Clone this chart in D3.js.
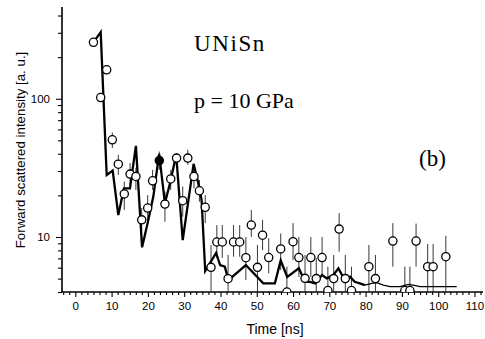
<!DOCTYPE html>
<html><head><meta charset="utf-8">
<script src="https://cdn.jsdelivr.net/npm/d3@7/dist/d3.min.js"></script>
<style>
html,body{margin:0;padding:0;background:#fff;}
svg{display:block;}
</style></head>
<body>
<svg id="chart" width="485" height="339"></svg>
<script>
// Observed data (time in ns, intensity a.u.)
const obsTime = [5.0,7.0,8.65,10.2,11.85,13.5,15.1,16.7,18.3,19.95,21.3,23.15,24.7,26.3,27.9,29.6,31.0,32.7,34.2,35.8,37.4,39.0,40.5,42.1,43.6,45.3,47.0,48.5,50.2,51.6,53.3,56.6,58.3,60.0,61.6,63.3,64.9,66.4,68.0,69.6,71.2,72.7,74.4,76.1,80.9,82.7,87.5,90.8,92.2,93.9,97.1,98.6,102.1];
const obsValue = [256,102,162,50.5,33.6,20.5,28.5,27.4,13.3,16.2,25.5,35.7,17.3,26.3,37.2,18.3,37.2,27.4,21.6,16.4,6.03,9.2,9.2,4.99,9.2,9.2,7.08,12.2,6.03,10.3,7.1,8.2,4.0,9.25,7.1,5.02,7.1,5.0,7.1,4.1,5.0,11.4,5.0,4.1,6.1,5.0,9.35,4.1,4.1,9.35,6.1,6.1,7.2];
const obsHigh = [null,null,null,57,39.3,25.2,34.3,31.6,16.2,20.1,30.6,41.5,21.3,30.6,40.4,23.2,42.7,32.3,25.9,20.1,8.75,12.2,12.2,7.41,12.2,12.2,10.0,15.7,8.75,13.3,9.8,10.6,6.1,12.6,10.0,7.41,10.0,7.05,10.0,6.1,7.41,14.9,7.41,6.1,8.75,7.41,12.6,6.1,6.1,12.5,8.9,8.9,10.2];
const obsLow  = [null,null,null,44,28.1,15.7,23.8,21.9,11.2,12.8,21.9,30.6,12.9,21.9,33.3,14.0,33.3,22.5,18.0,12.6,4.0,7.05,7.05,4.0,7.2,7.2,4.88,10.0,4.0,8.05,5.46,5.77,4.0,6.81,5.15,4.0,5.15,4.0,5.3,4.0,4.0,7.82,4.0,4.0,4.0,4.0,6.1,4.0,4.0,6.1,4.0,4.0,4.0];
const filledIndex = [11];

// Simulated curve
const simTime = [5.0,7.0,8.65,10.3,11.85,13.4,15.07,16.7,18.4,19.95,21.5,23.1,24.7,26.2,27.8,29.6,32.6,34.2,34.8,35.8,38.8,39.9,41.2,42.2,47.0,51.8,55.0,56.6,58.4,61.6,63.3,64.7,66.1,68.0,69.3,71.1,72.5,74.5,75.7,77.0,78.4,79.8,81.7,83.1,84.9,86.7,89.5,91.8,93.1,95.0,98.6,105.1];
const simValue = [256,303,28.1,30.2,14.4,22.5,22.5,45.6,8.42,12.7,19.6,39.9,17.6,25.1,39.3,9.5,33.8,22.6,18.5,5.67,7.66,6.27,6.1,4.88,6.27,4.62,4.62,6.76,5.15,5.93,4.74,4.74,4.62,5.31,5.02,5.31,5.93,4.74,5.15,4.74,4.62,4.49,4.62,4.67,4.49,4.37,4.37,4.54,4.49,4.37,4.37,4.37];
const thinFrom = 79.8;

// Ticks
const xMajorTicks = [0,10,20,30,40,50,60,70,80,90,100,110];
const yMajorTicks = [10,100];
const yMinorTicks = [4,5,6,7,8,9,20,30,40,50,60,70,80,90,200,300,400];

const svg = d3.select("#chart");
const x = d3.scaleLinear().domain([0,110]).range([75.3,474.5]);
const y = d3.scaleLog().domain([4,461]).range([292,7]);
const xLeft = 62, xRight = 483, yBottom = 292, yTop = 7;

const sans = "'Liberation Sans', Arial, Helvetica, sans-serif";
const serif = "'Liberation Serif', 'Times New Roman', serif";

svg.append("clipPath").attr("id","plotclip").append("rect")
  .attr("x",xLeft).attr("y",0).attr("width",xRight-xLeft).attr("height",yBottom);

const xMinorTicks = [];
for (let k=-2; k<=70; k++){ const v = k*10/6; if (k%6!==0 && x(v)>=xLeft && x(v)<=xRight) xMinorTicks.push(v); }

// X axis
const gx = svg.append("g").attr("transform",`translate(0,${yBottom})`);
gx.call(d3.axisBottom(x).tickValues(xMinorTicks).tickSize(3).tickFormat(""))
  .call(g=>g.select(".domain").remove());
gx.append("g").call(d3.axisBottom(x).tickValues(xMajorTicks).tickSize(5).tickPadding(5).tickFormat(d3.format("d")))
  .call(g=>g.select(".domain").remove())
  .call(g=>g.selectAll("text").attr("font-family",sans).attr("font-size",11.5).attr("fill","#000"));
gx.selectAll("line").attr("stroke","#000").attr("stroke-width",1.1);
svg.append("line").attr("x1",xLeft-1).attr("x2",xRight).attr("y1",yBottom).attr("y2",yBottom)
  .attr("stroke","#000").attr("stroke-width",1.6);

// Y axis
const gy = svg.append("g").attr("transform",`translate(${xLeft},0)`);
gy.call(d3.axisLeft(y).tickValues(yMinorTicks).tickSize(4).tickFormat(""))
  .call(g=>g.select(".domain").remove());
gy.append("g").call(d3.axisLeft(y).tickValues(yMajorTicks).tickSize(6).tickPadding(6).tickFormat(d3.format("d")))
  .call(g=>g.select(".domain").remove())
  .call(g=>g.selectAll("text").attr("font-family",sans).attr("font-size",11.5).attr("fill","#000"));
gy.selectAll("line").attr("stroke","#000").attr("stroke-width",1.1);
svg.append("line").attr("x1",xLeft).attr("x2",xLeft).attr("y1",yTop).attr("y2",yBottom)
  .attr("stroke","#000").attr("stroke-width",1.6);

const plot = svg.append("g").attr("clip-path","url(#plotclip)");

// Error bars
const obs = obsTime.map((t,i)=>({t, v:obsValue[i], hi:obsHigh[i], lo:obsLow[i], filled: filledIndex.includes(i)}));
plot.append("g").selectAll("line").data(obs.filter(d=>d.hi!=null)).join("line")
  .attr("x1",d=>x(d.t)).attr("x2",d=>x(d.t))
  .attr("y1",d=>y(d.hi)).attr("y2",d=>y(d.lo))
  .attr("stroke","#222").attr("stroke-width",0.9);

// Simulation line
const sim = simTime.map((t,i)=>({t, v:simValue[i]}));
const line = d3.line().x(d=>x(d.t)).y(d=>y(d.v));
const thick = sim.filter(d=>d.t<=thinFrom);
const thin = sim.filter(d=>d.t>=thinFrom);
plot.append("path").attr("d",line(thick)).attr("fill","none").attr("stroke","#000")
  .attr("stroke-width",2.3).attr("stroke-linejoin","miter");
plot.append("path").attr("d",line(thin)).attr("fill","none").attr("stroke","#000")
  .attr("stroke-width",1.3);

// Circles
plot.append("g").selectAll("circle").data(obs).join("circle")
  .attr("cx",d=>x(d.t)).attr("cy",d=>y(d.v)).attr("r",4.1)
  .attr("fill",d=>d.filled?"#000":"#fff").attr("stroke","#000").attr("stroke-width",1.3);

// Labels
svg.append("text").attr("x",275).attr("y",334).attr("text-anchor","middle")
  .attr("font-family",sans).attr("font-size",14).text("Time [ns]");
svg.append("text").attr("transform","translate(25,150) rotate(-90)").attr("text-anchor","middle")
  .attr("font-family",sans).attr("font-size",13.3).text("Forward scattered intensity [a. u.]");

svg.append("text").attr("x",194).attr("y",51).attr("font-family",serif).attr("font-size",23)
  .attr("letter-spacing",1.6).text("UNiSn");
svg.append("text").attr("x",194).attr("y",108).attr("font-family",serif).attr("font-size",22).text("p = 10 GPa");
svg.append("text").attr("x",419).attr("y",166).attr("font-family",serif).attr("font-size",23).text("(b)");
</script>
</body></html>
